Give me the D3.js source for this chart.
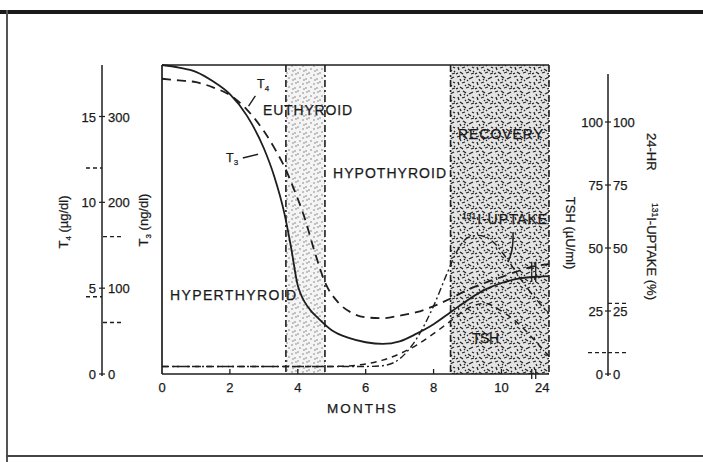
<!DOCTYPE html>
<html><head><meta charset="utf-8">
<script src="https://cdn.jsdelivr.net/npm/d3@7"></script>
<style>
html,body{margin:0;padding:0;background:#fff;}
svg{display:block;}
text{font-family:"Liberation Sans",Arial,sans-serif;fill:#1a1a1a;stroke:#1a1a1a;stroke-width:0.25px;}
</style></head><body>
<script>
// ---------- DATA ----------
const t3Months = [0,0.5,1,1.5,2,2.5,3,3.3,3.6,3.8,4,4.1,4.2,4.4,4.6,5,5.5,6,6.5,7,7.5,8,8.5,9,9.5,10,10.5,10.9,11.4];
const t3Values = [360,357,352,341,326,301,263,231,188,148,103,92,84,73,65,51,42,37,35,38,47,58,72,86,98,106,111,113,114]; // ng/dl
const t4Months = [0,0.5,1,1.5,2,2.5,3,3.3,3.6,3.9,4.2,4.5,4.8,5.2,5.6,6,6.5,7,7.5,8,8.5,9,9.5,10,10.5,10.9,11.4];
const t4Values = [17.2,17.1,17.0,16.7,16.25,15.4,14.15,13.2,12.1,10.7,9.1,7.1,5.35,4.15,3.55,3.3,3.25,3.4,3.6,3.95,4.4,4.9,5.3,5.65,6.0,6.25,6.4]; // ug/dl
const tshMonths = [0,1,2,3,4,5,5.5,6,6.5,7,7.5,8,8.5,9,9.5,10,10.5,11,11.4];
const tshValues = [3,3,3,3,3,3,3.2,4,5.5,8,11.5,16,21,26,28,25,20,13,7]; // uU/ml
const uptakeMonths = [0,1,2,3,4,5,6,6.5,7,7.5,8,8.4,8.7,9,9.3,9.7,10.2,10.6,11,11.4];
const uptakeValues = [3,3,3,3,3,3,3,3.3,6,14,27,40,49,54,55,53,45,37,30,24]; // %
const euthyroidBand = [3.65, 4.8];
const recoveryBand = [8.5, 11.4];
const monthTicks = [0,2,4,6,8,10,11.2];
const monthTickLabels = ["0","2","4","6","8","10","24"];
const t4Ticks = [0,5,10,15];
const t3Ticks = [0,100,200,300];
const rightTicks = [0,25,50,75,100];
const t4Normal = [4.5,12];
const t3Normal = [60,160];
const tshNormal = [8.5];
const uptakeNormal = [8.5,28];

// ---------- SETUP ----------
const W=703,H=462;
const svg=d3.select("body").append("svg").attr("width",W).attr("height",H);
const ink="#1e1e1e";

const x=d3.scaleLinear().domain([0,11.4]).range([162,549]);
const yT4=d3.scaleLinear().domain([0,18]).range([374,65]);
const yT3=d3.scaleLinear().domain([0,360]).range([374,65]);
const yR=d3.scaleLinear().domain([0,100]).range([374,122]);

// patterns
const defs=svg.append("defs");
const pl=defs.append("pattern").attr("id","light").attr("patternUnits","userSpaceOnUse").attr("width",11).attr("height",9);
pl.append("rect").attr("width",11).attr("height",9).attr("fill","#f4f4f4");
[[1,1],[6,3],[9,7],[3,6],[7,8],[10,2]].forEach(p=>pl.append("circle").attr("cx",p[0]).attr("cy",p[1]).attr("r",0.7).attr("fill","#666"));
const ph=defs.append("pattern").attr("id","heavy").attr("patternUnits","userSpaceOnUse").attr("width",19).attr("height",15);
ph.append("rect").attr("width",19).attr("height",15).attr("fill","#e4e4e4");
[[1,2,4,1],[7,1,10,3],[13,4,17,2],[2,7,3,10],[6,8,9,7],[12,9,15,11],[16,7,18,8],[4,12,7,14],[10,13,13,12],[15,14,18,13],[8,4,9,5],[0,14,2,13],[4,4,5,6],[11,6,12,5],[17,11,18,12],[9,10,10,11]]
 .forEach(s=>ph.append("line").attr("x1",s[0]).attr("y1",s[1]).attr("x2",s[2]).attr("y2",s[3]).attr("stroke","#222").attr("stroke-width",1.3));

// scan border
svg.append("rect").attr("x",0).attr("y",10).attr("width",W).attr("height",4).attr("fill","#1a1a1a");
svg.append("rect").attr("x",6).attr("y",10).attr("width",2).attr("height",H-10).attr("fill","#555");
svg.append("rect").attr("x",6).attr("y",455).attr("width",W-6).attr("height",2).attr("fill","#444");

// bands
svg.append("rect").attr("x",x(euthyroidBand[0])).attr("y",yT4(18)).attr("width",x(euthyroidBand[1])-x(euthyroidBand[0])).attr("height",yT4(0)-yT4(18)).attr("fill","url(#light)");
svg.append("rect").attr("x",x(recoveryBand[0])).attr("y",yT4(18)).attr("width",x(recoveryBand[1])-x(recoveryBand[0])).attr("height",yT4(0)-yT4(18)).attr("fill","url(#heavy)");
[euthyroidBand[0],euthyroidBand[1],recoveryBand[0],recoveryBand[1]].forEach(m=>{
  svg.append("line").attr("x1",x(m)).attr("x2",x(m)).attr("y1",yT4(18)).attr("y2",yT4(0))
   .attr("stroke",ink).attr("stroke-width",1.6).attr("stroke-dasharray","7,3,2,3");
});

// frame
svg.append("line").attr("x1",x(0)).attr("x2",x(11.4)).attr("y1",yT4(18)).attr("y2",yT4(18)).attr("stroke",ink).attr("stroke-width",1.7);
svg.append("line").attr("x1",x(0)).attr("x2",x(0)).attr("y1",yT4(18)).attr("y2",yT4(0)).attr("stroke",ink).attr("stroke-width",1.7);
svg.append("line").attr("x1",x(0)).attr("x2",x(11.4)).attr("y1",yT4(0)).attr("y2",yT4(0)).attr("stroke",ink).attr("stroke-width",1.7);

// x axis ticks & labels
const xa=svg.append("g");
monthTicks.forEach((m,i)=>{
  if(i>0 && i<monthTicks.length-1) xa.append("line").attr("x1",x(m)).attr("x2",x(m)).attr("y1",yT4(0)).attr("y2",yT4(0)-5).attr("stroke",ink).attr("stroke-width",1.3);
  xa.append("text").attr("x",x(m)).attr("y",392).attr("text-anchor","middle").attr("font-size",13).text(monthTickLabels[i]);
});
[-2,2].forEach(d=>xa.append("line").attr("x1",x(10.95)+d).attr("x2",x(10.95)+d).attr("y1",yT4(0)-5).attr("y2",yT4(0)+5).attr("stroke",ink).attr("stroke-width",1.3));
svg.append("text").attr("x",327).attr("y",413).attr("font-size",13.5).attr("textLength",69).attr("lengthAdjust","spacing").text("MONTHS");

// curves
const line=(xs,ys,ysc)=>d3.line().x((d,i)=>x(xs[i])).y((d,i)=>ysc(ys[i])).curve(d3.curveMonotoneX)(xs);
svg.append("path").attr("d",line(uptakeMonths,uptakeValues,yR)).attr("fill","none").attr("stroke",ink).attr("stroke-width",1.4).attr("stroke-dasharray","7,3,2,3");
svg.append("path").attr("d",line(tshMonths,tshValues,yR)).attr("fill","none").attr("stroke",ink).attr("stroke-width",1.5).attr("stroke-dasharray","6,5");
svg.append("path").attr("d",line(t4Months,t4Values,yT4)).attr("fill","none").attr("stroke",ink).attr("stroke-width",1.8).attr("stroke-dasharray","9,6");
svg.append("path").attr("d",line(t3Months,t3Values,yT3)).attr("fill","none").attr("stroke",ink).attr("stroke-width",1.8);
[yT4(t4Values[t4Values.length-2]), yT3(t3Values[t3Values.length-2])].forEach(yy=>{
  [-2,2].forEach(d=>svg.append("line").attr("x1",x(10.95)+d).attr("x2",x(10.95)+d).attr("y1",yy-5).attr("y2",yy+5).attr("stroke",ink).attr("stroke-width",1.3));
});

// labels inside plot
function lbl(txt,x0,x1,yb,fs){
  svg.append("text").attr("x",x0).attr("y",yb).attr("font-size",fs||14).attr("textLength",x1-x0).attr("lengthAdjust","spacing").text(txt);
}
lbl("EUTHYROID",263,352,115);
lbl("HYPOTHYROID",333,446,178);
lbl("HYPERTHYROID",170,296,300);
lbl("RECOVERY",458,543,139);
lbl("TSH",472,499,343);
const up=svg.append("text").attr("x",462).attr("y",224).attr("font-size",14);
up.append("tspan").attr("font-size",8.5).attr("dy",-5).text("131");
up.append("tspan").attr("dy",5).attr("dx",1).attr("textLength",70).attr("lengthAdjust","spacing").text("I-UPTAKE");
const t4l=svg.append("text").attr("x",257).attr("y",88).attr("font-size",12.5);
t4l.append("tspan").text("T");t4l.append("tspan").attr("font-size",8).attr("dy",3).text("4");
const t3l=svg.append("text").attr("x",226).attr("y",162).attr("font-size",12.5);
t3l.append("tspan").text("T");t3l.append("tspan").attr("font-size",8).attr("dy",3).text("3");
svg.append("line").attr("x1",x(2.75)).attr("y1",yT4(16.2)).attr("x2",x(2.55)).attr("y2",yT4(15.6)).attr("stroke",ink).attr("stroke-width",1.4);
svg.append("line").attr("x1",x(2.38)).attr("y1",yT4(12.58)).attr("x2",x(2.83)).attr("y2",yT4(12.8)).attr("stroke",ink).attr("stroke-width",1.4);
svg.append("path").attr("d",`M${x(10.34)},${yR(56.3)} Q${x(10.36)},${yR(49)} ${x(10.19)},${yR(44.4)}`).attr("fill","none").attr("stroke",ink).attr("stroke-width",1.5);

// left axis
const lx=102;
svg.append("line").attr("x1",lx).attr("x2",lx).attr("y1",yT4(18)).attr("y2",yT4(0)+2).attr("stroke",ink).attr("stroke-width",1.5);
t4Ticks.forEach((v,i)=>{
  svg.append("line").attr("x1",lx-3).attr("x2",lx+3).attr("y1",yT4(v)).attr("y2",yT4(v)).attr("stroke",ink).attr("stroke-width",1.2);
  svg.append("text").attr("x",lx-6).attr("y",yT4(v)+5).attr("text-anchor","end").attr("font-size",13).text(v);
  svg.append("text").attr("x",lx+6).attr("y",yT3(t3Ticks[i])+5).attr("font-size",13).text(t3Ticks[i]);
});
t4Normal.forEach(v=>svg.append("line").attr("x1",lx-16).attr("x2",lx).attr("y1",yT4(v)).attr("y2",yT4(v)).attr("stroke",ink).attr("stroke-width",1.3).attr("stroke-dasharray","4,3"));
t3Normal.forEach(v=>svg.append("line").attr("x1",lx+1).attr("x2",lx+19).attr("y1",yT3(v)).attr("y2",yT3(v)).attr("stroke",ink).attr("stroke-width",1.3).attr("stroke-dasharray","4,3"));
const a1=svg.append("text").attr("transform","translate(68,222) rotate(-90)").attr("text-anchor","middle").attr("font-size",13);
a1.append("tspan").text("T");a1.append("tspan").attr("font-size",8).attr("dy",3).text("4");a1.append("tspan").attr("dy",-3).text(" (\u00b5g/dl)");
const a2=svg.append("text").attr("transform","translate(148,220) rotate(-90)").attr("text-anchor","middle").attr("font-size",13);
a2.append("tspan").text("T");a2.append("tspan").attr("font-size",8).attr("dy",3).text("3");a2.append("tspan").attr("dy",-3).text(" (ng/dl)");

// right axis
const rx=608;
svg.append("line").attr("x1",rx).attr("x2",rx).attr("y1",yR(119)).attr("y2",yR(0)+2).attr("stroke",ink).attr("stroke-width",1.5);
rightTicks.forEach(v=>{
  svg.append("line").attr("x1",rx-3).attr("x2",rx+3).attr("y1",yR(v)).attr("y2",yR(v)).attr("stroke",ink).attr("stroke-width",1.2);
  svg.append("text").attr("x",rx-5).attr("y",yR(v)+5).attr("text-anchor","end").attr("font-size",13).text(v);
  svg.append("text").attr("x",rx+5).attr("y",yR(v)+5).attr("font-size",13).text(v);
});
tshNormal.forEach(v=>svg.append("line").attr("x1",rx-20).attr("x2",rx).attr("y1",yR(v)).attr("y2",yR(v)).attr("stroke",ink).attr("stroke-width",1.3).attr("stroke-dasharray","4,3"));
uptakeNormal.forEach(v=>svg.append("line").attr("x1",rx).attr("x2",rx+19).attr("y1",yR(v)).attr("y2",yR(v)).attr("stroke",ink).attr("stroke-width",1.3).attr("stroke-dasharray","4,3"));
svg.append("text").attr("transform","translate(566,233) rotate(90)").attr("text-anchor","middle").attr("font-size",13).text("TSH (\u00b5U/ml)");
svg.append("text").attr("transform","translate(647,133) rotate(90)").attr("font-size",13).text("24-HR");
const a4=svg.append("text").attr("transform","translate(647,203) rotate(90)").attr("font-size",13);
a4.append("tspan").attr("font-size",8.5).attr("dy",-5).text("131");
a4.append("tspan").attr("dy",5).text("I-UPTAKE (%)");
</script>
</body></html>
